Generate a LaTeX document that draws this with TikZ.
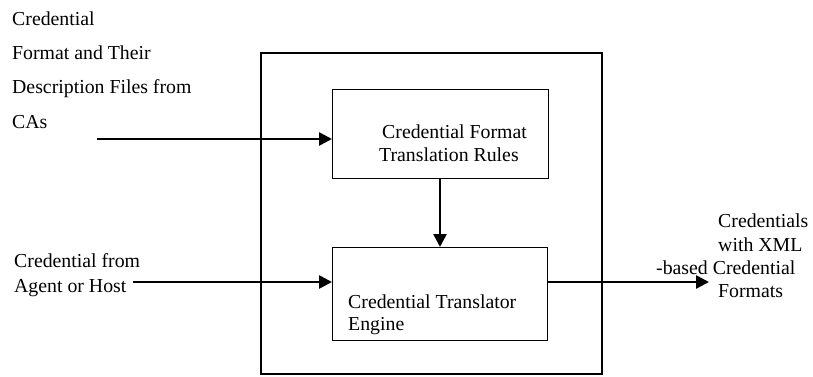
\documentclass[tikz,border=0pt]{standalone}
\usepackage{fontspec}
\setmainfont{Liberation Serif}
\usetikzlibrary{arrows.meta}
\begin{document}
\begin{tikzpicture}[x=1pt,y=-1pt,
  box/.style={draw,line width=1.3pt},
  flow/.style={line width=2.6pt,-{Triangle[length=13pt,width=13pt]}},
  txt/.style={anchor=base west,inner sep=0pt,font=\fontsize{19.8}{24}\selectfont}]
\useasboundingbox (0,0) rectangle (813,376);
% frame and the two blocks
\draw[box] (261,53) rectangle (602,374);
\node[box,minimum width=216pt,minimum height=89pt,anchor=north west,inner sep=0pt] (rules) at (332,89) {};
\node[box,minimum width=215pt,minimum height=93pt,anchor=north west,inner sep=0pt] (engine) at (332,247) {};
% block texts
\node[txt] (r1) at (382,138) {Credential Format};
\node[txt] (r2) at (379,161) {Translation Rules};
\node[txt] (e1) at (348,308) {Credential Translator};
\node[txt] (e2) at (348,330) {Engine};
% input labels
\node[txt] (a1) at (12,25) {Credential};
\node[txt] (a2) at (12,59) {Format and Their};
\node[txt] (a3) at (12,93) {Description Files from};
\node[txt] (a4) at (12,128) {CAs};
\node[txt] (b1) at (14,267) {Credential from};
\node[txt] (b2) at (14,292) {Agent or Host};
% output label
\node[txt] (c1) at (718,227) {Credentials};
\node[txt] (c2) at (718,251) {with XML};
\node[txt] (c3) at (656,274) {-based Credential};
\node[txt] (c4) at (718,297) {Formats};
% connectors
\coordinate (inA) at (97,139);
\coordinate (inB) at (133,282);
\coordinate (out) at (709,282);
\draw[flow] (inA) -- (inA -| rules.west);
\draw[flow] (inB) -- (inB -| engine.west);
\draw[flow] (rules.south -| 440,0) -- (engine.north -| 440,0);
\draw[flow] (engine.east |- out) -- (out);
\end{tikzpicture}
\end{document}
